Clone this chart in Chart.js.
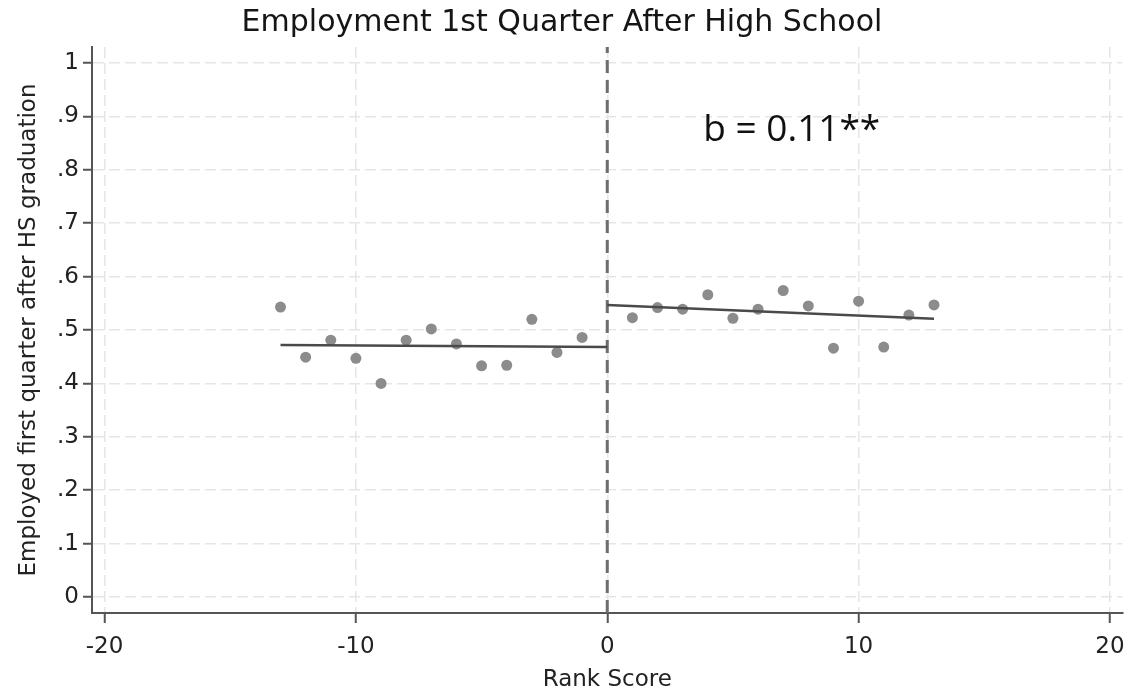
<!DOCTYPE html>
<html>
<head>
<meta charset="utf-8">
<title>Employment 1st Quarter After High School</title>
<script src="https://cdn.jsdelivr.net/npm/chart.js@4/dist/chart.umd.min.js"></script>
<style>
  html, body { margin: 0; padding: 0; background: #ffffff; }
  #wrap { width: 1128px; height: 692px; }
</style>
</head>
<body>
<div id="wrap"><canvas id="c" width="1128" height="692"></canvas></div>
<script>
// Binned means below and above the cutoff
const rankLeft = [-13, -12, -11, -10, -9, -8, -7, -6, -5, -4, -3, -2, -1];
const employedLeft = [0.543, 0.449, 0.481, 0.447, 0.400, 0.481, 0.502, 0.474, 0.433, 0.434, 0.520, 0.458, 0.486];
const rankRight = [1, 2, 3, 4, 5, 6, 7, 8, 9, 10, 11, 12, 13];
const employedRight = [0.523, 0.542, 0.539, 0.566, 0.522, 0.539, 0.574, 0.545, 0.466, 0.554, 0.468, 0.528, 0.547];

// Linear fits on each side
const fitLeftRank = [-13, 0];
const fitLeftValue = [0.472, 0.468];
const fitRightRank = [0, 13];
const fitRightValue = [0.547, 0.521];

// Axis ticks
const xTicks = [-20, -10, 0, 10, 20];
const yTicks = [0, 0.1, 0.2, 0.3, 0.4, 0.5, 0.6, 0.7, 0.8, 0.9, 1];

const cutoff = 0;
const estimateText = 'b = 0.11**';

const toPoints = (xs, ys) => xs.map((x, i) => ({ x: x, y: ys[i] }));

function yLabel(v) {
  if (v === 0) return '0';
  if (v === 1) return '1';
  return v.toFixed(1).replace(/^0/, '');
}

const cutoffPlugin = {
  id: 'cutoffLine',
  beforeDatasetsDraw(chart) {
    const { ctx, chartArea, scales } = chart;
    const px = scales.x.getPixelForValue(cutoff);
    ctx.save();
    ctx.strokeStyle = '#6e6e6e';
    ctx.lineWidth = 3;
    ctx.setLineDash([13, 7]);
    ctx.beginPath();
    ctx.moveTo(px, chartArea.bottom);
    ctx.lineTo(px, chartArea.top);
    ctx.stroke();
    ctx.restore();
  },
  afterDatasetsDraw(chart) {
    const { ctx, scales } = chart;
    ctx.save();
    ctx.fillStyle = '#111111';
    ctx.font = '37px "Open Sans"';
    ctx.textAlign = 'left';
    ctx.textBaseline = 'alphabetic';
    ctx.fillText(estimateText, scales.x.getPixelForValue(3.82), scales.y.getPixelForValue(0.854));
    ctx.restore();
  }
};

new Chart(document.getElementById('c'), {
  type: 'scatter',
  data: {
    datasets: [
      {
        label: 'Fit below',
        data: toPoints(fitLeftRank, fitLeftValue),
        showLine: true,
        borderColor: '#4a4a4a',
        borderWidth: 2.5,
        pointRadius: 0,
        order: 0
      },
      {
        label: 'Fit above',
        data: toPoints(fitRightRank, fitRightValue),
        showLine: true,
        borderColor: '#4a4a4a',
        borderWidth: 2.5,
        pointRadius: 0,
        order: 0
      },
      {
        label: 'Below cutoff',
        data: toPoints(rankLeft, employedLeft),
        backgroundColor: '#8c8c8c',
        borderWidth: 0,
        pointRadius: 5.5,
        order: 1
      },
      {
        label: 'Above cutoff',
        data: toPoints(rankRight, employedRight),
        backgroundColor: '#8c8c8c',
        borderWidth: 0,
        pointRadius: 5.5,
        order: 1
      }
    ]
  },
  options: {
    responsive: false,
    animation: false,
    devicePixelRatio: 1,
    layout: { padding: { left: 0, right: 4, top: 0, bottom: 0 } },
    plugins: {
      legend: { display: false },
      tooltip: { enabled: false },
      title: {
        display: true,
        text: 'Employment 1st Quarter After High School',
        color: '#151515',
        font: { family: '"DejaVu Sans"', size: 30, weight: 'normal', lineHeight: 1.2 },
        padding: { top: 5, bottom: 6 }
      }
    },
    scales: {
      x: {
        type: 'linear',
        min: -20.5,
        max: 20.5,
        afterBuildTicks(scale) { scale.ticks = xTicks.map(v => ({ value: v })); },
        afterFit(scale) { scale.height = 79; scale.paddingLeft = 0; scale.paddingRight = 0; },
        ticks: {
          color: '#222222',
          font: { family: '"DejaVu Sans"', size: 23 },
          padding: 10,
          maxRotation: 0,
          callback: v => String(v)
        },
        grid: {
          color: '#e6e6e6',
          lineWidth: 1.5,
          tickColor: '#555555',
          tickWidth: 2,
          tickLength: 10,
          tickBorderDash: []
        },
        border: { display: true, color: '#555555', width: 2, dash: [11, 5] },
        title: {
          display: true,
          text: 'Rank Score',
          color: '#222222',
          font: { family: '"DejaVu Sans"', size: 23, lineHeight: 1 },
          padding: { top: 0, bottom: 0 }
        }
      },
      y: {
        type: 'linear',
        min: -0.03,
        max: 1.03,
        afterBuildTicks(scale) { scale.ticks = yTicks.map(v => ({ value: v })); },
        afterFit(scale) { scale.width = 92; scale.paddingTop = 0; scale.paddingBottom = 0; },
        ticks: {
          color: '#222222',
          font: { family: '"DejaVu Sans"', size: 23 },
          padding: 4,
          callback: v => yLabel(v)
        },
        grid: {
          color: '#e6e6e6',
          lineWidth: 1.5,
          tickColor: '#555555',
          tickWidth: 2,
          tickLength: 9,
          tickBorderDash: []
        },
        border: { display: true, color: '#555555', width: 2, dash: [11, 5] },
        title: {
          display: true,
          text: 'Employed first quarter after HS graduation',
          color: '#222222',
          font: { family: '"DejaVu Sans"', size: 23, lineHeight: 1 },
          padding: { top: 18, bottom: 0 }
        }
      }
    }
  },
  plugins: [cutoffPlugin]
});
</script>
</body>
</html>
